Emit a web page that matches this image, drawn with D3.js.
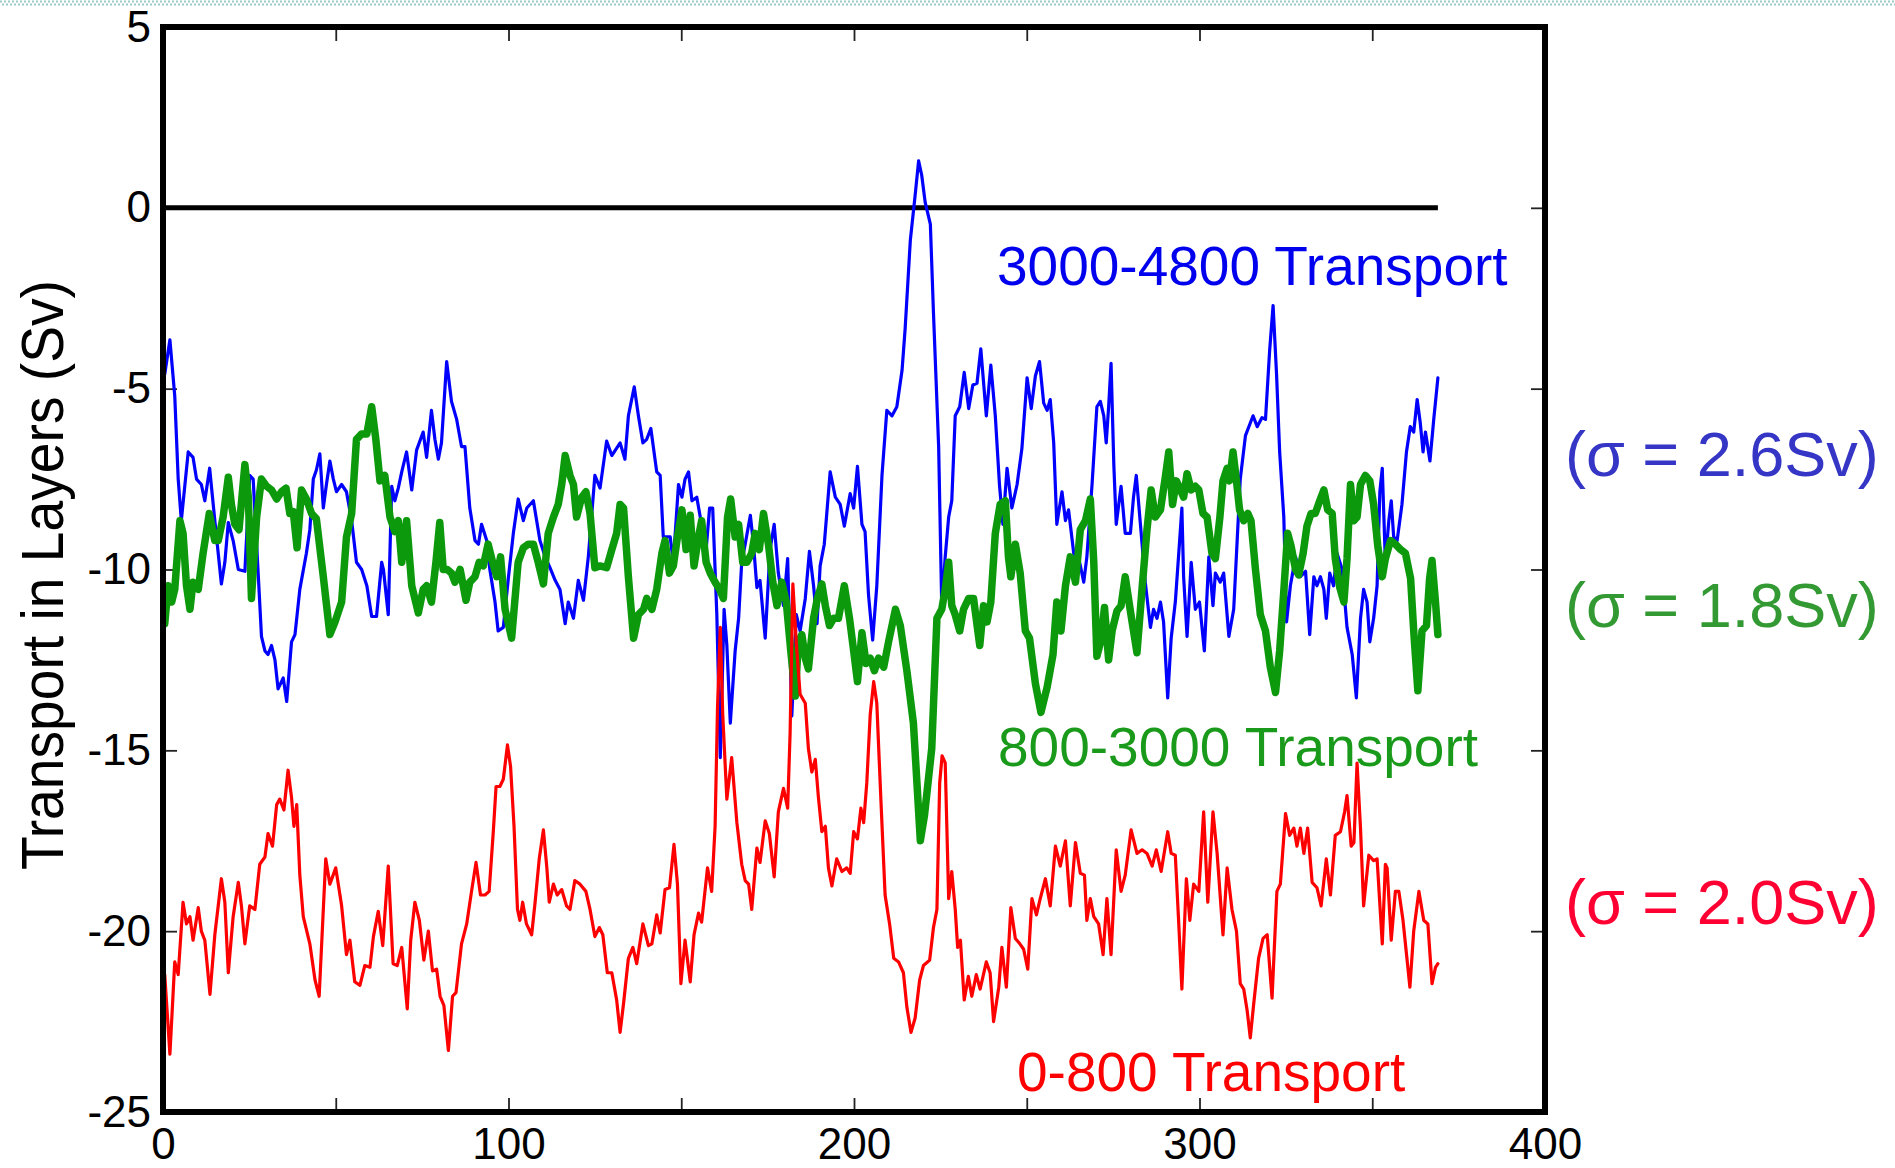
<!DOCTYPE html>
<html>
<head>
<meta charset="utf-8">
<script src="https://cdn.jsdelivr.net/npm/d3@7/dist/d3.min.js"></script>
<style>
  html, body { margin: 0; padding: 0; background: #fff; }
  svg { display: block; }
</style>
</head>
<body>
<svg id="chart" width="1895" height="1168"></svg>
<script>
// Axis ticks
const xTicks = [0, 50, 100, 150, 200, 250, 300, 350, 400];
const xLabelled = [0, 100, 200, 300, 400];
const yTicks = [-25, -20, -15, -10, -5, 0, 5];

// Zero reference line, day range
const zeroLineDays = [0, 369];

// 3000-4800 m layer transport (Sv), [day, value]
const deepTransport = [
  [0.5,-4.6],[2,-3.65],[3.4,-5.2],[4.4,-7.5],[5.3,-8.65],[7.3,-6.75],[8.7,-6.9],[9.7,-7.5],[11.1,-7.65],[12.1,-8.1],
  [13.5,-7.2],[15,-8.65],[16.9,-10.4],[17.9,-9.8],[18.9,-8.7],[20.3,-9.2],[21.8,-10.0],[23.7,-10.05],[25.1,-7.4],[26.1,-7.5],
  [27.6,-10.2],[28.5,-11.85],[29.5,-12.25],[30.4,-12.35],[31.4,-12.1],[32.4,-12.5],[33.3,-13.3],[34.8,-13.0],[35.8,-13.65],[37.2,-12.0],
  [38.2,-11.8],[39.6,-10.55],[41.5,-9.55],[42.5,-8.9],[43.5,-7.5],[44.4,-7.25],[45.4,-6.8],[46.4,-8.3],[47.3,-7.65],[48.3,-7.0],
  [49.3,-7.5],[50.2,-7.85],[51.7,-7.65],[53.1,-7.85],[54.6,-8.65],[56,-9.8],[57.5,-10.0],[59,-10.45],[60.4,-11.3],[61.8,-11.3],
  [63.3,-9.8],[63.8,-10.0],[65.2,-11.25],[66.2,-7.7],[67.1,-8.1],[68.1,-7.75],[69.1,-7.3],[70.5,-6.75],[72,-7.8],[73.4,-6.7],
  [75.3,-6.2],[76.3,-6.9],[77.7,-5.6],[78.7,-6.4],[79.7,-6.95],[80.6,-6.5],[82.1,-4.25],[83.5,-5.35],[85,-5.85],[86.4,-6.6],
  [87.4,-6.6],[88.8,-8.3],[90.3,-9.2],[91.3,-9.3],[92.2,-8.75],[93.7,-9.2],[94.6,-10.0],[96.1,-10.9],[97,-11.7],[98.5,-11.6],
  [100,-10.2],[101.4,-9.0],[102.8,-8.05],[104.3,-8.65],[105.3,-8.3],[107.2,-8.1],[109.1,-9.2],[110.6,-9.65],[112,-9.95],[113.5,-10.3],
  [114.9,-10.55],[116.4,-11.5],[117.3,-10.9],[118.8,-11.35],[120.2,-10.3],[121.7,-10.85],[123.1,-9.65],[125,-7.4],[126.5,-7.75],[128.4,-6.45],
  [129.9,-6.85],[132.3,-6.5],[133.7,-6.95],[134.7,-5.75],[136.4,-4.95],[137.6,-5.75],[138.9,-6.5],[140,-6.4],[141.2,-6.1],[142.9,-7.3],
  [143.9,-7.4],[144.8,-9.1],[145.8,-9.1],[146.8,-9.1],[147.7,-9.8],[149.2,-7.65],[150.2,-8.0],[151.1,-7.5],[152.1,-7.3],[153.1,-8.1],
  [154.5,-8.0],[155.5,-8.55],[156.9,-9.8],[158.2,-8.3],[159.1,-8.3],[160.3,-11.25],[161.3,-15.2],[162.4,-11.1],[163.2,-12.1],[164.2,-14.25],
  [165.6,-12.25],[166.6,-11.35],[167.5,-9.8],[168.5,-9.3],[170,-8.5],[170.9,-9.3],[171.9,-10.5],[172.8,-10.3],[174.3,-11.9],[175.7,-9.45],
  [176.9,-8.75],[178.1,-10.1],[179.6,-11.0],[180.8,-9.7],[182,-14.05],[183.3,-11.25],[184.4,-11.7],[185.9,-10.8],[187.1,-9.5],[188.3,-10.45],
  [189.3,-11.5],[190.2,-9.9],[191.4,-9.3],[193.1,-7.3],[194.6,-8.0],[196,-8.2],[197.2,-8.8],[198.9,-7.9],[199.9,-8.3],[201,-7.15],
  [202.3,-8.75],[203.2,-8.95],[204.2,-10.7],[205.4,-11.95],[206.6,-10.45],[208.1,-7.4],[209.5,-5.6],[211,-5.75],[212.4,-5.5],[213.9,-4.5],
  [214.8,-3.35],[216.3,-0.9],[217.7,0.35],[218.7,1.3],[219.6,0.9],[220.6,0.15],[222.1,-0.45],[223,-2.9],[224.5,-6.6],[225.4,-11.05],
  [226.4,-9.65],[227.4,-8.55],[228.3,-8.1],[229.3,-5.75],[230.6,-5.5],[231.9,-4.55],[233.2,-5.55],[234.4,-4.9],[235.6,-4.85],[236.7,-3.9],
  [238.3,-5.75],[239.6,-4.35],[240.9,-5.75],[242.1,-7.65],[243.1,-8.75],[244.3,-7.2],[245.7,-8.3],[247.2,-7.65],[248.6,-6.65],[250.1,-4.7],
  [251.3,-5.55],[252.5,-4.65],[253.7,-4.25],[254.9,-5.4],[255.9,-5.6],[256.8,-5.3],[257.8,-6.5],[258.7,-8.75],[260.2,-7.85],[261.2,-8.65],
  [262.1,-8.35],[263.6,-9.55],[265.3,-9.8],[266.5,-10.35],[267.4,-9.65],[268.9,-7.65],[270.3,-5.5],[271.3,-5.35],[272.3,-5.75],[273,-6.5],
  [273.7,-5.5],[274.4,-4.3],[275.2,-7.1],[275.9,-8.75],[277.3,-7.7],[278.5,-9.0],[280,-9.0],[280.9,-8.0],[281.7,-7.4],[282.9,-8.75],
  [284.3,-10.35],[285.8,-11.6],[286.7,-11.1],[287.7,-11.35],[288.7,-10.9],[289.6,-11.45],[290.8,-13.55],[291.8,-11.9],[293,-10.9],[294,-9.55],
  [294.9,-8.3],[295.4,-10.2],[296.4,-11.85],[297.6,-9.8],[298.8,-11.1],[300,-10.9],[301.4,-12.25],[302.7,-9.65],[303.9,-11.0],[304.6,-10.1],
  [306,-10.35],[307,-10.1],[308.5,-11.85],[309.9,-11.1],[310.9,-9.2],[311.8,-7.5],[313.3,-6.3],[314.7,-5.95],[315.5,-5.75],[316.7,-6.05],
  [318.1,-5.8],[319.1,-5.85],[320.3,-3.95],[321.3,-2.7],[322.3,-4.6],[323.2,-6.75],[324.4,-8.55],[325.2,-11.45],[326.3,-10.45],[327.8,-9.65],
  [329.2,-10.2],[330.7,-10.05],[331.9,-11.8],[333.1,-10.2],[334,-10.45],[335,-10.2],[336,-10.55],[336.7,-11.35],[337.7,-10.1],[338.8,-10.45],
  [339.8,-9.55],[341.3,-10.0],[342.7,-11.6],[344.2,-12.35],[345.4,-13.55],[346.6,-11.35],[347.5,-10.55],[348.5,-10.9],[349.3,-12.0],[350.4,-11.35],
  [351.4,-10.45],[352.2,-7.85],[352.9,-7.2],[353.8,-9.8],[354.8,-8.65],[355.5,-8.1],[356.2,-9.1],[357.2,-9.2],[358.6,-8.2],[359.9,-6.75],
  [361,-6.05],[362,-6.2],[363,-5.3],[363.9,-5.95],[364.7,-6.75],[365.4,-6.2],[366.7,-7.0],[367.8,-5.85],[369,-4.7]
];

// 800-3000 m layer transport (Sv), [day, value]
const midTransport = [
  [0.5,-11.5],[1.5,-10.45],[2.5,-10.9],[3.4,-10.55],[4.9,-8.65],[5.8,-9.0],[6.8,-10.45],[7.8,-11.1],[8.7,-10.35],[10.2,-10.55],
  [11.6,-9.55],[13.4,-8.45],[15,-9.2],[16,-9.2],[17.4,-8.55],[18.9,-7.45],[19.8,-8.2],[20.8,-8.75],[22,-8.9],[23.7,-7.1],
  [24.7,-8.0],[25.6,-10.8],[27.1,-8.55],[28.5,-7.5],[30,-7.7],[31.4,-7.8],[32.9,-8.05],[34.3,-7.85],[35.6,-7.75],[36.7,-8.45],
  [37.7,-8.4],[38.8,-9.4],[40.1,-7.8],[41.5,-8.05],[43,-8.45],[44.4,-8.6],[46.4,-10.2],[48.3,-11.8],[49.8,-11.45],[51.7,-10.9],
  [53.1,-9.1],[54.6,-8.45],[56,-6.4],[57.5,-6.25],[59,-6.25],[60.4,-5.5],[61.6,-6.4],[62.8,-7.55],[64.2,-7.4],[65.7,-8.55],
  [67.1,-8.95],[68.1,-8.65],[69.1,-9.8],[70.5,-8.65],[72,-10.45],[73.9,-11.2],[75.3,-10.55],[76.3,-10.45],[77.7,-10.9],[79,-9.8],
  [80.1,-8.7],[81.1,-10.0],[82.3,-10.0],[83.5,-10.1],[84.5,-10.35],[86,-10.0],[87.7,-10.85],[88.8,-10.35],[90.3,-10.2],[91.5,-9.8],
  [92.7,-9.9],[94.1,-9.3],[95.4,-9.8],[96.6,-10.2],[97.7,-9.65],[99,-11.1],[100.9,-11.9],[102.8,-9.8],[104.3,-9.4],[105.7,-9.3],
  [107.2,-9.3],[108.6,-9.8],[110.1,-10.4],[111.5,-9.0],[113,-8.55],[114.4,-8.2],[115.4,-7.65],[116.4,-6.85],[117.8,-7.4],[118.8,-7.65],
  [119.7,-8.55],[121.2,-8.0],[122.4,-7.85],[123.6,-8.45],[125,-9.95],[126.5,-9.9],[128.4,-9.95],[129.9,-9.45],[131.3,-9.0],[132.3,-8.2],
  [133.3,-8.3],[134.7,-10.2],[136.2,-11.9],[137.6,-11.25],[139.1,-11.1],[140,-10.8],[141.5,-11.1],[142.9,-10.55],[144.4,-9.55],[145.3,-9.2],
  [146.6,-10.1],[147.7,-9.9],[148.9,-9.1],[150.2,-8.35],[151.4,-9.45],[152.6,-8.5],[153.7,-9.9],[155,-9.1],[155.9,-8.65],[157.2,-9.8],
  [158.4,-10.1],[159.8,-10.35],[161.1,-10.55],[162.2,-10.8],[163.4,-8.55],[164.3,-8.05],[165.6,-9.1],[166.6,-8.75],[167.8,-9.8],[169,-9.8],
  [170.4,-9.55],[171.4,-9.0],[172.6,-9.45],[173.8,-8.45],[175.3,-9.35],[176.5,-10.35],[177.7,-11.0],[179.1,-10.35],[180.4,-10.9],[181.7,-12.25],
  [183,-13.5],[183.9,-12.0],[184.9,-11.8],[185.9,-12.45],[186.8,-12.75],[188.3,-11.35],[189.4,-10.8],[190.7,-10.4],[191.7,-11.0],[192.9,-11.55],
  [194.1,-11.35],[195.5,-11.35],[197.2,-10.45],[198.7,-11.35],[199.9,-12.25],[201,-13.1],[202.3,-11.75],[203.5,-12.6],[204.7,-12.45],[205.9,-12.8],
  [207.1,-12.45],[208.6,-12.7],[210,-12.0],[212,-11.1],[213.4,-11.55],[215.3,-12.8],[217.2,-14.25],[219.2,-17.5],[220.4,-16.8],[222.5,-14.95],
  [224,-11.35],[225.4,-11.1],[226.4,-10.55],[227.4,-9.8],[228.3,-11.0],[229.3,-11.25],[230.6,-11.7],[231.7,-11.1],[233.2,-10.8],[234.6,-10.8],
  [236.4,-12.1],[237.5,-11.0],[238.5,-11.45],[239.6,-10.9],[240.9,-9.0],[242.3,-8.2],[243.8,-8.1],[244.7,-9.65],[245.4,-10.2],[246.7,-9.3],
  [248.1,-10.1],[249.6,-11.7],[250.8,-11.9],[252.5,-13.15],[254.1,-13.95],[255.9,-13.25],[257.6,-12.35],[258.7,-10.9],[259.9,-11.7],[261.2,-10.45],
  [262.6,-9.65],[264.1,-10.35],[265.5,-8.9],[267,-8.65],[268.4,-8.05],[269.4,-9.8],[270.3,-12.4],[271.5,-11.95],[272.5,-11.05],[273.7,-12.5],
  [274.7,-11.7],[276.1,-11.15],[277.3,-11.0],[278.5,-10.2],[280,-11.15],[281.9,-12.3],[283.4,-10.5],[284.8,-8.9],[286,-7.8],[287.2,-8.55],
  [288.7,-8.35],[290.1,-7.45],[291.1,-6.75],[292.2,-8.2],[293.3,-7.55],[294.5,-7.8],[295.4,-8.0],[296.4,-7.35],[297.6,-7.8],[298.8,-7.7],
  [299.8,-7.8],[301,-8.45],[302.2,-8.55],[303.6,-9.55],[304.6,-9.7],[305.9,-8.55],[306.8,-7.55],[308,-7.2],[308.7,-7.55],[309.7,-6.75],
  [310.7,-7.55],[311.6,-8.35],[312.8,-8.65],[314,-8.45],[314.9,-8.65],[316.2,-10.0],[317.6,-11.25],[319.1,-11.7],[320.5,-12.7],[322,-13.4],
  [323.2,-12.25],[324.4,-10.6],[325.5,-9.0],[326.5,-9.35],[327.8,-10.0],[328.7,-10.15],[330,-9.55],[331.1,-8.8],[332.3,-8.45],[333.5,-8.45],
  [334.8,-8.1],[336,-7.8],[337.1,-8.35],[338.4,-8.45],[339.3,-9.7],[340.6,-10.5],[341.8,-10.9],[342.7,-9.7],[343.7,-7.65],[344.7,-8.65],
  [345.6,-8.55],[346.6,-7.65],[348,-7.4],[349.3,-7.55],[350.4,-8.2],[351.6,-9.35],[352.9,-10.2],[353.8,-9.7],[355.3,-9.2],[356.7,-9.3],
  [358.2,-9.45],[359.6,-9.55],[361.1,-10.25],[362,-11.7],[363.2,-13.35],[364.4,-11.7],[365.7,-11.55],[366.6,-10.25],[367.3,-9.75],[368.3,-10.9],
  [369,-11.8]
];

// 0-800 m layer transport (Sv), [day, value]
const upperTransport = [
  [0.5,-21.2],[2,-23.4],[3.4,-20.85],[4.4,-21.2],[5.8,-19.2],[6.8,-19.8],[7.8,-19.6],[8.7,-20.25],[10.2,-19.35],[11.1,-20.0],
  [12.1,-20.25],[13.6,-21.75],[15,-20.1],[16.9,-18.55],[17.9,-19.2],[18.9,-21.15],[20.3,-19.6],[21.8,-18.65],[22.7,-19.3],[23.7,-20.35],
  [25.1,-19.3],[26.6,-19.4],[28,-18.15],[29.5,-17.95],[30.4,-17.3],[31.7,-17.65],[32.9,-16.5],[33.8,-16.35],[35,-16.65],[36.2,-15.55],
  [37.2,-16.3],[37.9,-17.1],[38.7,-16.5],[39.6,-18.45],[40.6,-19.6],[42.5,-20.35],[44,-21.35],[45.2,-21.8],[46.4,-19.4],[47.1,-18.0],
  [48.3,-18.7],[50,-18.25],[51.7,-19.3],[53.1,-20.65],[54.1,-20.25],[55.5,-21.4],[57,-21.5],[58.4,-20.95],[59.9,-21.0],[60.9,-20.15],
  [62.3,-19.45],[63.6,-20.4],[65.2,-18.2],[66.6,-20.9],[67.8,-20.95],[69.1,-20.45],[70.7,-22.15],[71.7,-20.25],[72.9,-19.2],[74.2,-19.7],
  [75.5,-20.8],[76.8,-20.0],[78,-21.1],[79.2,-21.05],[80.2,-21.8],[81.3,-22.05],[82.6,-23.3],[83.8,-21.8],[84.8,-21.7],[86.4,-20.35],
  [87.9,-19.8],[89.3,-18.9],[90.6,-18.1],[91.9,-19.0],[93.2,-19.0],[94.4,-18.9],[95.6,-17.25],[96.4,-16.0],[97.5,-16.0],[98.5,-15.8],
  [99.7,-14.85],[100.6,-15.45],[101.6,-17.1],[102.6,-19.4],[103.3,-19.7],[104.1,-19.2],[105.2,-19.8],[106.7,-20.1],[107.7,-19.2],[108.9,-18.0],
  [110.1,-17.2],[111.1,-18.25],[111.8,-19.2],[113,-18.7],[114.1,-19.0],[115.4,-18.85],[116.8,-19.3],[117.8,-19.4],[119.2,-18.6],[120.7,-18.7],
  [122.4,-18.9],[123.6,-19.4],[125,-20.15],[126.3,-19.9],[127.3,-20.1],[128.6,-21.15],[129.9,-21.15],[131.3,-21.9],[132.3,-22.8],[133.3,-22.0],
  [134.7,-20.75],[136,-20.45],[137.1,-20.9],[138.9,-19.8],[140.5,-20.4],[141.5,-20.35],[142.9,-19.55],[143.9,-20.05],[145.3,-18.85],[146.6,-18.8],
  [147.9,-17.6],[148.9,-18.7],[149.9,-21.45],[151.1,-20.25],[152.6,-21.4],[153.7,-20.1],[155,-19.5],[155.9,-19.75],[157.6,-18.25],[158.8,-18.9],
  [159.8,-17.1],[160.5,-13.8],[161.3,-11.6],[162,-14.0],[163.2,-16.35],[164.6,-15.2],[166.1,-17.0],[167.5,-18.15],[168.5,-18.6],[169.5,-18.7],
  [170.4,-19.4],[171.9,-17.7],[172.8,-18.1],[174.3,-16.95],[175.5,-17.3],[176.9,-18.5],[178.1,-16.7],[179.6,-16.05],[180.8,-16.6],[181.5,-14.55],
  [182.3,-10.4],[183.3,-12.05],[184.4,-13.45],[185.9,-13.7],[186.8,-14.95],[187.8,-15.6],[188.8,-15.25],[189.7,-16.3],[190.7,-17.25],[191.7,-17.1],
  [192.6,-18.25],[193.6,-18.75],[195,-18.0],[196.5,-18.35],[197.9,-18.25],[198.9,-18.4],[199.9,-17.25],[201,-17.45],[202,-16.6],[202.8,-17.0],
  [203.7,-15.9],[204.7,-14.0],[205.7,-13.1],[206.6,-13.7],[207.8,-16.4],[209,-19.0],[210.3,-19.8],[211.5,-20.75],[212.9,-20.85],[214.3,-21.15],
  [215.3,-22.1],[216.5,-22.8],[217.7,-22.4],[219,-21.35],[220.1,-20.95],[221.9,-20.8],[223,-19.9],[224,-19.4],[224.8,-15.9],[225.5,-15.15],
  [226.4,-15.35],[227.4,-19.1],[228.3,-18.35],[229.3,-19.4],[230,-20.45],[230.8,-20.25],[231.9,-21.9],[233.1,-21.25],[234.1,-21.8],[235.4,-21.2],
  [236.5,-21.6],[238.3,-20.85],[239.4,-21.15],[240.4,-22.5],[241.9,-21.55],[242.8,-20.45],[244.1,-21.55],[245.4,-19.35],[246.7,-20.2],[248,-20.35],
  [249.1,-20.5],[250.3,-21.05],[251.5,-19.1],[252.8,-19.55],[253.9,-19.1],[255.4,-18.55],[256.8,-19.3],[258.3,-17.65],[259.7,-18.2],[261.2,-17.5],
  [262.6,-19.3],[264.1,-17.55],[265.5,-18.4],[266.7,-18.45],[267.4,-19.7],[268.4,-19.1],[269.4,-19.6],[270.8,-19.8],[272.1,-20.65],[273.2,-19.1],
  [274.4,-20.65],[275.9,-17.75],[277.3,-18.9],[278.5,-18.45],[280.2,-17.2],[281.9,-17.85],[283.4,-17.75],[284.8,-17.85],[286.3,-18.2],[287.5,-17.75],
  [288.9,-18.35],[290.8,-17.25],[291.8,-17.85],[293,-17.9],[294,-19.8],[294.9,-21.6],[296.2,-18.55],[297.2,-19.7],[298.3,-18.7],[299.8,-18.9],
  [301.2,-16.7],[302.4,-19.2],[303.9,-16.7],[305.1,-17.85],[306.8,-20.1],[308,-18.25],[309.4,-19.4],[310.7,-20.0],[311.8,-21.45],[312.8,-21.6],
  [313.8,-22.2],[314.7,-22.95],[315.7,-22.0],[317.1,-20.75],[318.4,-20.2],[319.6,-20.1],[321,-21.85],[322.4,-18.9],[323.4,-18.7],[324.9,-16.75],
  [326.1,-17.35],[327.3,-17.15],[328.2,-17.65],[329.2,-17.15],[330.2,-17.85],[331.3,-17.15],[332.6,-18.65],[334,-18.8],[335.2,-19.3],[336.7,-18.0],
  [337.9,-19.0],[339.3,-17.35],[340.8,-17.25],[342,-16.7],[342.7,-16.25],[343.9,-17.65],[344.7,-17.55],[345.6,-15.35],[346.6,-17.15],[347.5,-19.3],
  [349,-17.9],[350.4,-18.05],[351.4,-18.0],[352.9,-20.35],[353.8,-18.15],[354.3,-18.25],[355.5,-20.25],[356.7,-18.9],[357.7,-18.9],[358.9,-19.7],
  [360.9,-21.55],[362,-20.0],[363.5,-18.9],[364.9,-19.7],[366.1,-19.8],[367.3,-21.45],[368.3,-21.0],[369,-20.9]
];

// Series styling and labels
const series = [
  { name: "3000-4800 Transport", data: deepTransport, color: "#0000ff", width: 3.2 },
  { name: "800-3000 Transport",  data: midTransport,  color: "#0c990c", width: 7.5 },
  { name: "0-800 Transport",     data: upperTransport, color: "#ff0000", width: 3.2 }
];
const seriesLabels = [
  { text: "3000-4800 Transport", x: 997,  y: 285,  color: "#0000ee" },
  { text: "800-3000 Transport",  x: 998,  y: 766,  color: "#1a9a1a" },
  { text: "0-800 Transport",     x: 1017, y: 1091, color: "#ff0000" }
];
const sigmaLabels = [
  { text: "(\u03c3 = 2.6Sv)", y: 476, color: "#3535c6" },
  { text: "(\u03c3 = 1.8Sv)", y: 627, color: "#339933" },
  { text: "(\u03c3 = 2.0Sv)", y: 924, color: "#ff0033" }
];

const svg = d3.select("#chart");
const plot = { left: 163, right: 1545, top: 27, bottom: 1112 };

const x = d3.scaleLinear().domain([0, 400]).range([plot.left, plot.right]);
const y = d3.scaleLinear().domain([-25, 5]).range([plot.bottom, plot.top]);

// dotted strip along the top edge of the page
[1.5, 4.5].forEach((yy, i) => {
  svg.append("line")
    .attr("x1", i * 2).attr("x2", 1895)
    .attr("y1", yy).attr("y2", yy)
    .attr("stroke", "#9cc9c9")
    .attr("stroke-width", 2.2)
    .attr("stroke-dasharray", "2 2");
});

const font = "'Liberation Sans', Arial, Helvetica, sans-serif";

function styleAxis(g) {
  g.select(".domain").remove();
  g.selectAll(".tick line").attr("stroke", "#222").attr("stroke-width", 1.8);
  g.selectAll(".tick text")
    .attr("font-family", font)
    .attr("font-size", 44)
    .attr("fill", "#000");
}

// axes with inward ticks on all four sides
svg.append("g")
  .attr("transform", `translate(0,${plot.bottom})`)
  .call(d3.axisBottom(x).tickValues(xTicks).tickSizeInner(-14).tickSizeOuter(0).tickPadding(16)
    .tickFormat(d => xLabelled.includes(d) ? String(d) : ""))
  .call(styleAxis);

svg.append("g")
  .attr("transform", `translate(0,${plot.top})`)
  .call(d3.axisTop(x).tickValues(xTicks.slice(1, -1)).tickSizeInner(-14).tickSizeOuter(0).tickFormat(""))
  .call(styleAxis);

svg.append("g")
  .attr("transform", `translate(${plot.left},0)`)
  .call(d3.axisLeft(y).tickValues(yTicks).tickSizeInner(-14).tickSizeOuter(0).tickPadding(12)
    .tickFormat(d => String(d)))
  .call(styleAxis);

svg.append("g")
  .attr("transform", `translate(${plot.right},0)`)
  .call(d3.axisRight(y).tickValues(yTicks.slice(1, -1)).tickSizeInner(-14).tickSizeOuter(0).tickFormat(""))
  .call(styleAxis);

// zero line
svg.append("line")
  .attr("x1", x(zeroLineDays[0])).attr("x2", x(zeroLineDays[1]))
  .attr("y1", y(0)).attr("y2", y(0))
  .attr("stroke", "#000").attr("stroke-width", 5);

// transport series
const line = d3.line().x(d => x(d[0])).y(d => y(d[1]));
series.forEach(s => {
  svg.append("path")
    .datum(s.data)
    .attr("d", line)
    .attr("fill", "none")
    .attr("stroke", s.color)
    .attr("stroke-width", s.width)
    .attr("stroke-linejoin", "round")
    .attr("stroke-linecap", "round");
});

// plot frame
svg.append("rect")
  .attr("x", plot.left).attr("y", plot.top)
  .attr("width", plot.right - plot.left).attr("height", plot.bottom - plot.top)
  .attr("fill", "none").attr("stroke", "#000").attr("stroke-width", 6);

// series labels
seriesLabels.forEach(l => {
  svg.append("text")
    .attr("x", l.x).attr("y", l.y)
    .attr("font-family", font).attr("font-size", 55)
    .attr("fill", l.color)
    .text(l.text);
});

// standard deviation labels
sigmaLabels.forEach(l => {
  svg.append("text")
    .attr("x", 1565).attr("y", l.y)
    .attr("font-family", font).attr("font-size", 63)
    .attr("fill", l.color)
    .text(l.text);
});

// y-axis title
svg.append("text")
  .attr("transform", "translate(63,575) rotate(-90)")
  .attr("text-anchor", "middle")
  .attr("font-family", font).attr("font-size", 60)
  .attr("textLength", 590).attr("lengthAdjust", "spacingAndGlyphs")
  .attr("fill", "#000")
  .text("Transport in Layers (Sv)");
</script>
</body>
</html>
